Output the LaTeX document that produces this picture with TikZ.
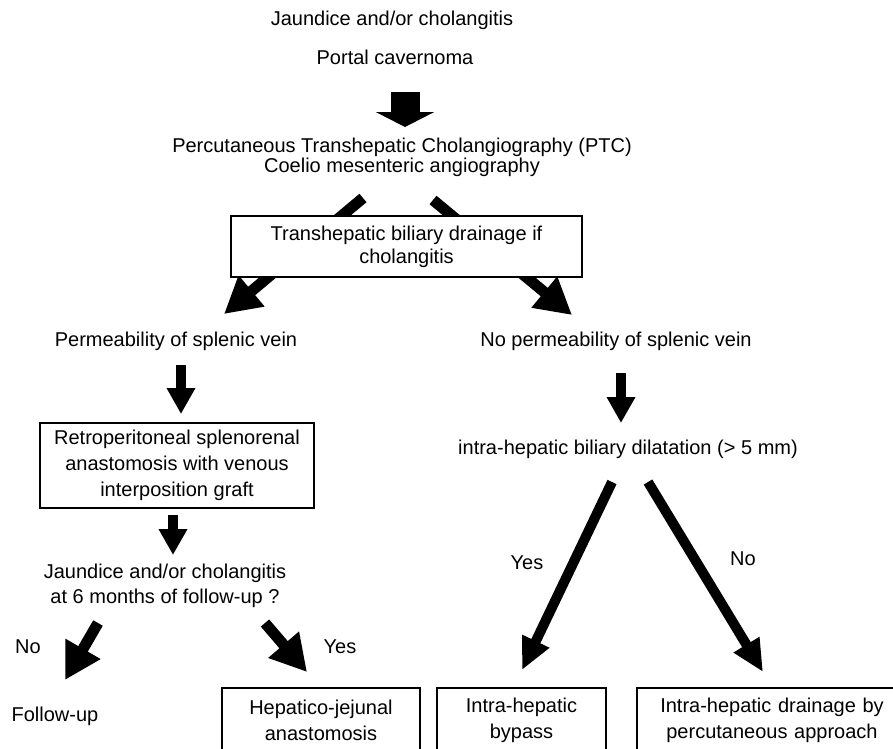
\documentclass[tikz,border=0pt]{standalone}
\usepackage{fontspec}
\setmainfont{Liberation Sans}
\usetikzlibrary{arrows.meta}
\begin{document}
\begin{tikzpicture}[x=1pt,y=-1pt,
  txt/.style={inner sep=0pt, align=center, font=\fontsize{20}{23}\selectfont},
  boxnode/.style={txt, draw, line width=1.3pt, fill=white},
  fatarrow/.style={line width=10pt, -{Triangle[length=26pt,width=27pt]}},
  diagarrow/.style={line width=11pt, -{Triangle[length=36pt,width=38pt]}},
  longarrow/.style={line width=10pt, -{Triangle[length=32pt,width=28pt]}},
  bigarrow/.style={line width=29pt, -{Triangle[length=15pt,width=58pt]}}]
\clip (0,0) rectangle (893,748);
\useasboundingbox (0,0) rectangle (893,748);
\fill[white] (0,0) rectangle (893,748);

% texts
\node[txt] (t1) at (392,20) {Jaundice and/or cholangitis};
\node[txt] (t2) at (395,57) {Portal cavernoma};
\node[txt, font=\fontsize{20}{20}\selectfont] (ptc) at (402,157) {Percutaneous Transhepatic Cholangiography (PTC)\\Coelio mesenteric angiography};
\node[txt] (perm) at (176,341) {Permeability of splenic vein};
\node[txt] (noperm) at (616,341) {No permeability of splenic vein};
\node[txt] (dil) at (628,449) {intra-hepatic biliary dilatation (> 5 mm)};
\node[txt, font=\fontsize{20}{25}\selectfont] (q) at (165,586) {Jaundice and/or cholangitis\\at 6 months of follow-up ?};
\node[txt] (fu) at (55,716) {Follow-up};
\node[txt] (lno) at (28,647) {No};
\node[txt] (lyes) at (340,647) {Yes};
\node[txt] (ryes) at (527,563) {Yes};
\node[txt] (rno) at (743,559) {No};

% arrow coordinates
\coordinate (a0s) at (405,92);  \coordinate (a0e) at (405,127);
\coordinate (aLs) at (363,198); \coordinate (aLe) at (224,314);
\coordinate (aRs) at (433,200); \coordinate (aRe) at (572,315);
\coordinate (b1s) at (181,365); \coordinate (b1e) at (181,414);
\coordinate (b2s) at (173,515); \coordinate (b2e) at (173,555);
\coordinate (c1s) at (621,373); \coordinate (c1e) at (621,423);
\coordinate (dNs) at (98,623);  \coordinate (dNe) at (65,680);
\coordinate (dYs) at (265,623); \coordinate (dYe) at (307,672);
\coordinate (eYs) at (612,482); \coordinate (eYe) at (522,670);
\coordinate (eNs) at (648,482); \coordinate (eNe) at (763,672);

\draw[bigarrow] (a0s) -- (a0e);
\draw[diagarrow] (aLs) -- (aLe);
\draw[diagarrow] (aRs) -- (aRe);

% boxes
\node[boxnode, minimum width=351pt, minimum height=61pt, font=\fontsize{20}{23}\selectfont] (box1) at (406.5,246.5) {Transhepatic biliary drainage if\\cholangitis};
\node[boxnode, minimum width=274pt, minimum height=85pt, font=\fontsize{20}{26}\selectfont] (box2) at (177,465.5) {Retroperitoneal splenorenal\\anastomosis with venous\\interposition graft};
\node[boxnode, minimum width=198pt, minimum height=64pt, font=\fontsize{20}{26}\selectfont] (box3) at (321,720) {Hepatico-jejunal\\anastomosis};
\node[boxnode, minimum width=169pt, minimum height=64pt, font=\fontsize{20}{26}\selectfont] (box4) at (521.5,720) {Intra-hepatic\\bypass};
\node[boxnode, minimum width=270pt, minimum height=64pt, font=\fontsize{20}{26}\selectfont, text width=260pt] (box5) at (772,720) {Intra-hepatic drainage by\\percutaneous approach};

\draw[fatarrow] (b1s) -- (b1e);
\draw[fatarrow] (b2s) -- (b2e);
\draw[fatarrow] (c1s) -- (c1e);
\draw[diagarrow] (dNs) -- (dNe);
\draw[diagarrow] (dYs) -- (dYe);
\draw[longarrow] (eYs) -- (eYe);
\draw[longarrow] (eNs) -- (eNe);
\end{tikzpicture}
\end{document}
